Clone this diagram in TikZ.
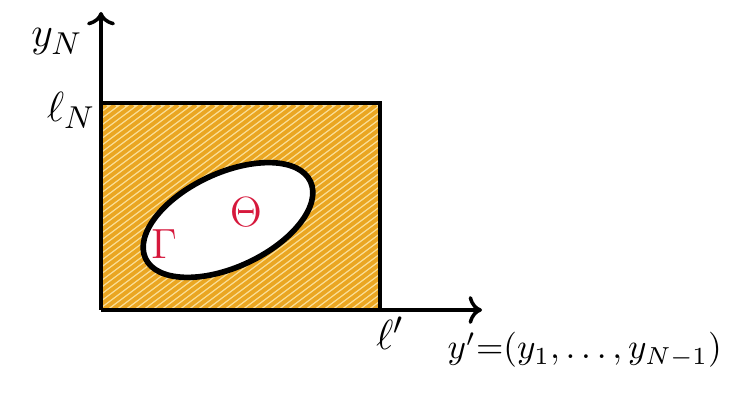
\documentclass[tikz,border=0pt]{standalone}
\usepackage{amsmath,amssymb}
\usetikzlibrary{arrows.meta}
\definecolor{hatch}{RGB}{234,166,34}
\definecolor{hatchlight}{RGB}{250,222,150}
\definecolor{inkred}{RGB}{214,24,60}
\begin{document}
\begin{tikzpicture}[x=0.1mm,y=-0.1mm,font=\fontsize{13}{15}\selectfont]
\useasboundingbox (0,0) rectangle (732,404);
\coordinate (o) at (101,310);
\coordinate (ytop) at (101,12);
\coordinate (xend) at (482,310);
\coordinate (rtop) at (380,103);
\begin{scope}
\clip (101,103) rectangle (380,310);
\fill[hatchlight] (101,103) rectangle (380,310);
\foreach \i in {-320,-311,...,400}
  \draw[hatch,line width=1.1pt] (\i,330) -- (\i+300,105);
\end{scope}
\draw[line width=1pt] (101,103) -- (rtop) -- (380,310);
\draw[line width=1.6pt,fill=white] (228,220) ellipse [x radius=91,y radius=47,rotate=25];
\draw[line width=1pt,->] (o) -- (ytop);
\draw[line width=1pt,->] (o) -- (xend);
\node (yN) at (57,42) {$y_N$};
\node (lN) at (71,110) {$\ell_N$};
\node (lp) at (390,333) {$\ell'$};
\node[anchor=west,inner sep=0pt,font=\fontsize{10}{12}\selectfont] (yp) at (447,350) {$y'{=}(y_1,\dots,y_{N-1})$};
\node[inkred] (Theta) at (246,212) {$\Theta$};
\node[inkred] (Gamma) at (164,244) {$\Gamma$};
\end{tikzpicture}
\end{document}
